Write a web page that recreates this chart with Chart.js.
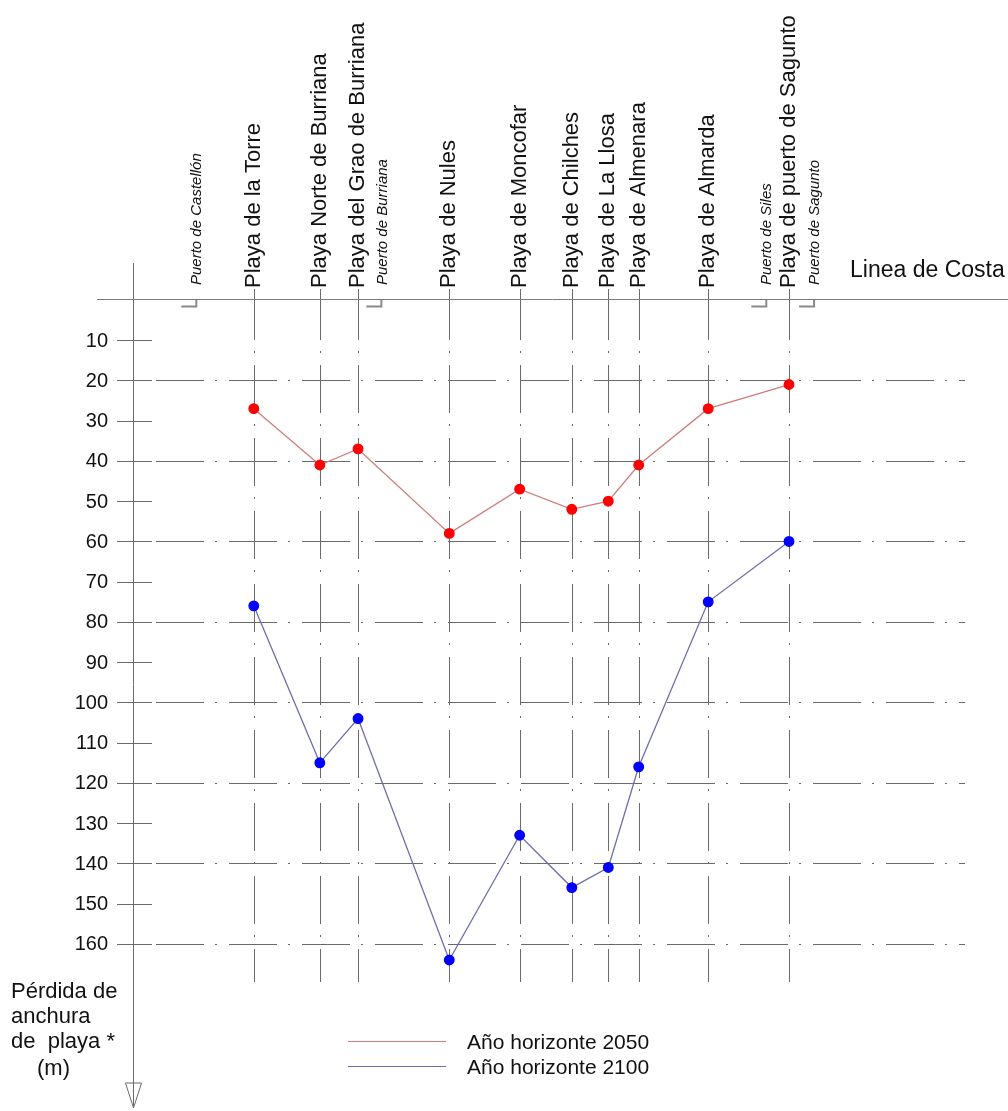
<!DOCTYPE html>
<html>
<head>
<meta charset="utf-8">
<script src="https://cdn.jsdelivr.net/npm/chart.js@4.4.0/dist/chart.umd.min.js"></script>
<style>
  html, body { margin: 0; padding: 0; background: #fff; }
  #wrap { width: 1008px; height: 1111px; }
</style>
</head>
<body>
<div id="wrap"><canvas id="grafica" width="1008" height="1111"></canvas></div>
<script>
// playas (posicion relativa a lo largo de la costa, 0..100)
var playas = ["Playa de la Torre", "Playa Norte de Burriana", "Playa del Grao de Burriana", "Playa de Nules",
  "Playa de Moncofar", "Playa de Chilches", "Playa de La Llosa", "Playa de Almenara", "Playa de Almarda",
  "Playa de puerto de Sagunto"];
var posPlaya = [13.9, 21.5, 25.9, 36.4, 44.5, 50.5, 54.7, 58.2, 66.2, 75.5];

var puertos = ["Puerto de Castellón", "Puerto de Burriana", "Puerto de Siles", "Puerto de Sagunto"];
var posPuerto = [7.4, 28.7, 73.0, 78.5];

// perdida de anchura de playa (m)
var perdida2050 = [27, 41, 37, 58, 47, 52, 50, 41, 27, 21];
var perdida2100 = [76, 115, 104, 164, 133, 146, 141, 116, 75, 60];

var ticksY = [10, 20, 30, 40, 50, 60, 70, 80, 90, 100, 110, 120, 130, 140, 150, 160];
var gridY = [20, 40, 60, 80, 100, 120, 140, 160];

var leyenda = ["Año horizonte 2050", "Año horizonte 2100"];
var tituloY = ["Pérdida de", "anchura", "de  playa *", "(m)"];

var FONT = '"Liberation Sans", Arial, sans-serif';
var GRIS = "#6a6a6a";
var ROJO_LINEA = "#d07c7c";
var AZUL_LINEA = "#6e6eae";

function puntos(vals) {
  var out = [];
  for (var i = 0; i < vals.length; i++) {
    out.push({ x: posPlaya[i], y: vals[i] });
  }
  return out;
}

// todo lo que no es serie: rejilla, ejes, textos
const dibujo = {
  id: "dibujo",
  beforeDatasetsDraw(chart) {
    var ctx = chart.ctx;
    var sx = chart.scales.x, sy = chart.scales.y;
    var y0 = sy.getPixelForValue(0);
    ctx.save();
    ctx.strokeStyle = GRIS;
    ctx.lineWidth = 1;

    // lineas horizontales punto-raya
    ctx.setLineDash([48, 11, 2, 12]);
    gridY.forEach(function (v) {
      var py = Math.round(sy.getPixelForValue(v)) + 0.5;
      ctx.beginPath();
      ctx.moveTo(156, py);
      ctx.lineTo(965, py);
      ctx.stroke();
    });
    // lineas verticales en cada playa
    posPlaya.forEach(function (p) {
      var px = Math.round(sx.getPixelForValue(p)) + 0.5;
      ctx.beginPath();
      ctx.moveTo(px, 292);
      ctx.lineTo(px, 982);
      ctx.stroke();
    });
    ctx.setLineDash([]);
    posPlaya.forEach(function (p) {
      var px = Math.round(sx.getPixelForValue(p)) + 0.5;
      ctx.beginPath();
      ctx.moveTo(px, 289);
      ctx.lineTo(px, y0);
      ctx.stroke();
    });

    // eje y con flecha
    var ax = Math.round(sx.getPixelForValue(0)) + 0.5;
    ctx.beginPath();
    ctx.moveTo(ax, 263);
    ctx.lineTo(ax, 1106);
    ctx.stroke();
    ctx.beginPath();
    ctx.moveTo(ax - 8, 1083);
    ctx.lineTo(ax + 8, 1083);
    ctx.lineTo(ax, 1108);
    ctx.closePath();
    ctx.stroke();

    // linea de costa
    ctx.strokeStyle = "#7a7a7a";
    ctx.beginPath();
    ctx.moveTo(97, Math.round(y0) - 0.5);
    ctx.lineTo(1008, Math.round(y0) - 0.5);
    ctx.stroke();
    ctx.strokeStyle = GRIS;

    // marcas del eje y
    ticksY.forEach(function (v) {
      var py = Math.round(sy.getPixelForValue(v)) + 0.5;
      ctx.beginPath();
      ctx.moveTo(117, py);
      ctx.lineTo(152, py);
      ctx.stroke();
    });
    ctx.fillStyle = "#111";
    ctx.font = "20px " + FONT;
    ctx.textAlign = "right";
    ctx.textBaseline = "middle";
    ticksY.forEach(function (v) {
      ctx.fillText(String(v), 108, sy.getPixelForValue(v) + 1);
    });

    // nombres de las playas
    ctx.font = "22px " + FONT;
    ctx.textAlign = "left";
    ctx.textBaseline = "middle";
    playas.forEach(function (n, i) {
      var px = sx.getPixelForValue(posPlaya[i]);
      ctx.save();
      ctx.translate(px, 288);
      ctx.rotate(-Math.PI / 2);
      ctx.fillText(n, 0, 0);
      ctx.restore();
    });

    // puertos
    ctx.font = "italic 15px " + FONT;
    puertos.forEach(function (n, i) {
      var px = sx.getPixelForValue(posPuerto[i]);
      ctx.save();
      ctx.translate(px, 285);
      ctx.rotate(-Math.PI / 2);
      ctx.fillText(n, 0, 0);
      ctx.restore();
      ctx.strokeStyle = "#8a8a8a";
      ctx.lineWidth = 2;
      ctx.beginPath();
      ctx.moveTo(px - 16, 306.5);
      ctx.lineTo(px - 1, 306.5);
      ctx.lineTo(px - 1, 300);
      ctx.stroke();
    });
    ctx.lineWidth = 1;

    // linea de costa (texto)
    ctx.font = "23px " + FONT;
    ctx.fillText("Linea de Costa", 850, 271);

    // titulo eje y
    ctx.font = "22px " + FONT;
    ctx.fillText(tituloY[0], 11, 992);
    ctx.fillText(tituloY[1], 11, 1017);
    ctx.fillText(tituloY[2], 11, 1042);
    ctx.fillText(tituloY[3], 37, 1069);

    // leyenda
    var colores = [ROJO_LINEA, AZUL_LINEA];
    ctx.font = "21px " + FONT;
    leyenda.forEach(function (t, i) {
      var ly = 1041 + i * 25;
      ctx.strokeStyle = colores[i];
      ctx.beginPath();
      ctx.moveTo(348, ly + 0.5);
      ctx.lineTo(446, ly + 0.5);
      ctx.stroke();
      ctx.fillText(t, 467, ly + 2);
    });
    ctx.restore();
  }
};

new Chart(document.getElementById("grafica"), {
  type: "line",
  data: {
    datasets: [
      {
        label: leyenda[0],
        data: puntos(perdida2050),
        borderColor: ROJO_LINEA,
        borderWidth: 1.3,
        pointBackgroundColor: "#ff0000",
        pointBorderColor: "#ff0000",
        pointRadius: 4.8,
        tension: 0
      },
      {
        label: leyenda[1],
        data: puntos(perdida2100),
        borderColor: AZUL_LINEA,
        borderWidth: 1.3,
        pointBackgroundColor: "#0000ff",
        pointBorderColor: "#0000ff",
        pointRadius: 4.8,
        tension: 0
      }
    ]
  },
  options: {
    responsive: false,
    animation: false,
    clip: false,
    layout: { padding: { left: 133, right: 0, top: 300, bottom: 3 } },
    plugins: { legend: { display: false }, tooltip: { enabled: false } },
    scales: {
      x: { type: "linear", min: 0, max: 100, display: false },
      y: { type: "linear", min: 0, max: 200, reverse: true, display: false }
    }
  },
  plugins: [dibujo]
});
</script>
</body>
</html>
